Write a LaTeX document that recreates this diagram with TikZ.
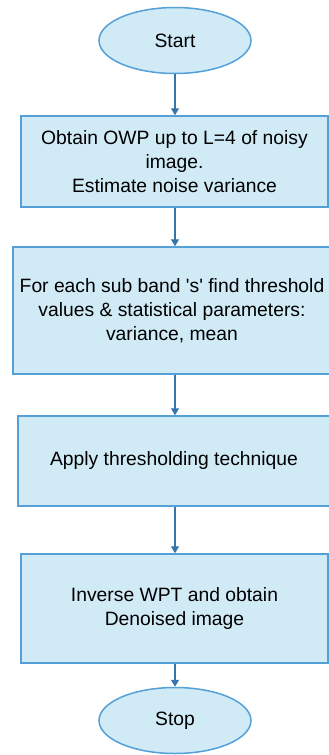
\documentclass[tikz,border=0pt]{standalone}
\usepackage{fontspec}
\setmainfont{Liberation Sans}
\usetikzlibrary{arrows.meta}
\usetikzlibrary{shapes.geometric}
\definecolor{boxfill}{RGB}{208,234,246}
\definecolor{boxline}{RGB}{86,160,216}
\definecolor{flowline}{RGB}{52,118,172}
\newcommand{\procnode}[5]{\node(#1)[proc,minimum width=#3,minimum height=#4] at #2 {#5}}

\begin{document}
\begin{tikzpicture}[
        x=1pt, y=-1pt,
        every node/.style={font=\fontsize{19.3}{24}\selectfont},
        term/.style={ellipse,draw=boxline,fill=boxfill,line width=1.5pt,
                     minimum width=152pt,minimum height=66pt,inner sep=0pt},
        proc/.style={rectangle,draw=boxline,fill=boxfill,line width=1.5pt,
                     align=center,inner sep=0pt},
        flow/.style={draw=flowline,line width=1.3pt,-{Triangle[width=8pt,length=7pt]}}
      ]
      \useasboundingbox (0,0) rectangle (329,755);
      \node(start)[term] at (175,40.5) {Start};
      \procnode{obtain}{(174.5,161.5)}{307pt}{91pt}{Obtain OWP up to L=4 of noisy\\image.\\Estimate noise variance};
      \procnode{each}{(172,310.5)}{318pt}{127pt}{For each sub band \textquotesingle s\textquotesingle\ find threshold\\values \& statistical parameters:\\variance, mean};
      \procnode{apply}{(174,461)}{312pt}{90pt}{Apply thresholding technique};
      \procnode{inverse}{(174.5,608.5)}{307pt}{109pt}{Inverse WPT and obtain\\Denoised image};
      \node(stop)[term] at (175,720.5) {Stop};
      \draw[flow] (start.south) -- (obtain.north -| start.south);
      \draw[flow] (obtain.south -| start.south) -- (each.north -| start.south);
      \draw[flow] (each.south -| start.south) -- (apply.north -| start.south);
      \draw[flow] (apply.south -| start.south) -- (inverse.north -| start.south);
      \draw[flow] (inverse.south -| start.south) -- (stop.north);
    \end{tikzpicture}
\end{document}
